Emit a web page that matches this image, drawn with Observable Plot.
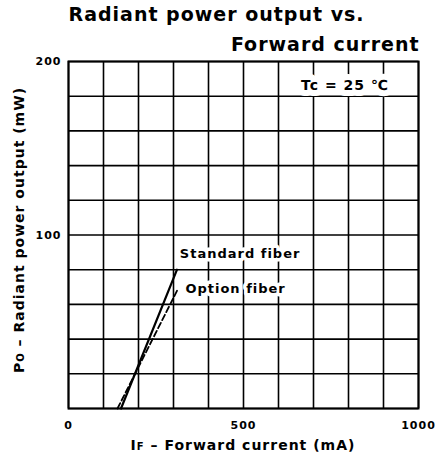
<!DOCTYPE html>
<html><head><meta charset="utf-8">
<script src="https://cdn.jsdelivr.net/npm/d3@7"></script>
<script src="https://cdn.jsdelivr.net/npm/@observablehq/plot@0.6"></script>
<style>body{margin:0;background:#fff} svg{display:block}</style>
</head><body><div id="chart"></div>
<script>
// Data
const standardCurrent = [150, 310];   // mA
const standardPower   = [0, 80];      // mW
const optionCurrent   = [140, 313];   // mA
const optionPower     = [0, 69];      // mW
const xTicks = [0, 500, 1000];
const yTicks = [100, 200];
const xGrid = [0,100,200,300,400,500,600,700,800,900,1000];
const yGrid = [0,20,40,60,80,100,120,140,160,180,200];
const seriesNames = ["Standard fiber", "Option fiber"];
const labelX = [318, 334];
const labelY = [89, 69];
const noteText = "Tc = 25 ℃";
const titleLines = ["Radiant power output vs.", "Forward current"];
const xLabel = ["I", "F", " – Forward current (mA)"];
const yLabel = ["P", "O", " – Radiant power output (mW)"];

const standard = standardCurrent.map((c, i) => ({c, p: standardPower[i]}));
const option = optionCurrent.map((c, i) => ({c, p: optionPower[i]}));
const labels = seriesNames.map((t, i) => ({t, x: labelX[i], y: labelY[i]}));

const font = "DejaVu Sans";
const chart = Plot.plot({
  width: 435, height: 463,
  marginLeft: 68, marginRight: 17, marginTop: 61, marginBottom: 55,
  style: {fontFamily: font, fontSize: "11px", fontWeight: "bold", color: "#000", background: "#fff", letterSpacing: "1px"},
  x: {domain: [0, 1000], label: null},
  y: {domain: [0, 200], label: null},
  marks: [
    Plot.gridX(xGrid, {stroke: "#000", strokeOpacity: 1, strokeWidth: 1.6}),
    Plot.gridY(yGrid, {stroke: "#000", strokeOpacity: 1, strokeWidth: 1.6}),
    Plot.frame({stroke: "#000", strokeWidth: 2}),
    Plot.text([noteText], {x: 790, y: 186, text: d => d, fontSize: 14, fontWeight: "bold",
      stroke: "#fff", strokeWidth: 12, fill: "#000", fontFamily: font}),
    Plot.text(labels, {x: "x", y: "y", text: "t", textAnchor: "start", fontSize: 13, fontWeight: "bold",
      stroke: "#fff", strokeWidth: 7, fill: "#000", fontFamily: font}),
    Plot.line(standard, {x: "c", y: "p", stroke: "#000", strokeWidth: 2.2}),
    Plot.line(option, {x: "c", y: "p", stroke: "#000", strokeWidth: 1.8, strokeDasharray: "6,3"}),
    Plot.axisX({ticks: xTicks, tickSize: 0, tickPadding: 13, fontSize: 11, fontWeight: "bold",
      tickFormat: d => String(d), label: null}),
    Plot.axisY({ticks: yTicks, tickSize: 0, tickPadding: 7, fontSize: 11, fontWeight: "bold",
      tickFormat: d => String(d), label: null}),
    Plot.text([titleLines[0]], {frameAnchor: "top-left", textAnchor: "start", lineAnchor: "bottom",
      dy: -41, text: d => d, fontSize: 19, fontWeight: "bold", fontFamily: font}),
    Plot.text([titleLines[1]], {frameAnchor: "top-right", textAnchor: "end", lineAnchor: "bottom",
      dy: -11, dx: 1, text: d => d, fontSize: 19, fontWeight: "bold", fontFamily: font})
  ]
});
document.getElementById("chart").append(chart);

// Axis titles with small-cap subscripts
const svg = d3.select(chart);
const xt = svg.append("text").attr("x", 243).attr("y", 450).attr("text-anchor", "middle")
  .attr("font-family", font).attr("font-size", 14).attr("font-weight", "bold")
  .attr("letter-spacing", "1px").attr("fill", "#000");
xt.append("tspan").text(xLabel[0]);
xt.append("tspan").attr("font-size", 10).text(xLabel[1]);
xt.append("tspan").text(xLabel[2]);
const yt = svg.append("text").attr("transform", "translate(24,230) rotate(-90)").attr("text-anchor", "middle")
  .attr("font-family", font).attr("font-size", 14).attr("font-weight", "bold")
  .attr("letter-spacing", "1px").attr("fill", "#000");
yt.append("tspan").text(yLabel[0]);
yt.append("tspan").attr("font-size", 10).text(yLabel[1]);
yt.append("tspan").text(yLabel[2]);
</script></body></html>
